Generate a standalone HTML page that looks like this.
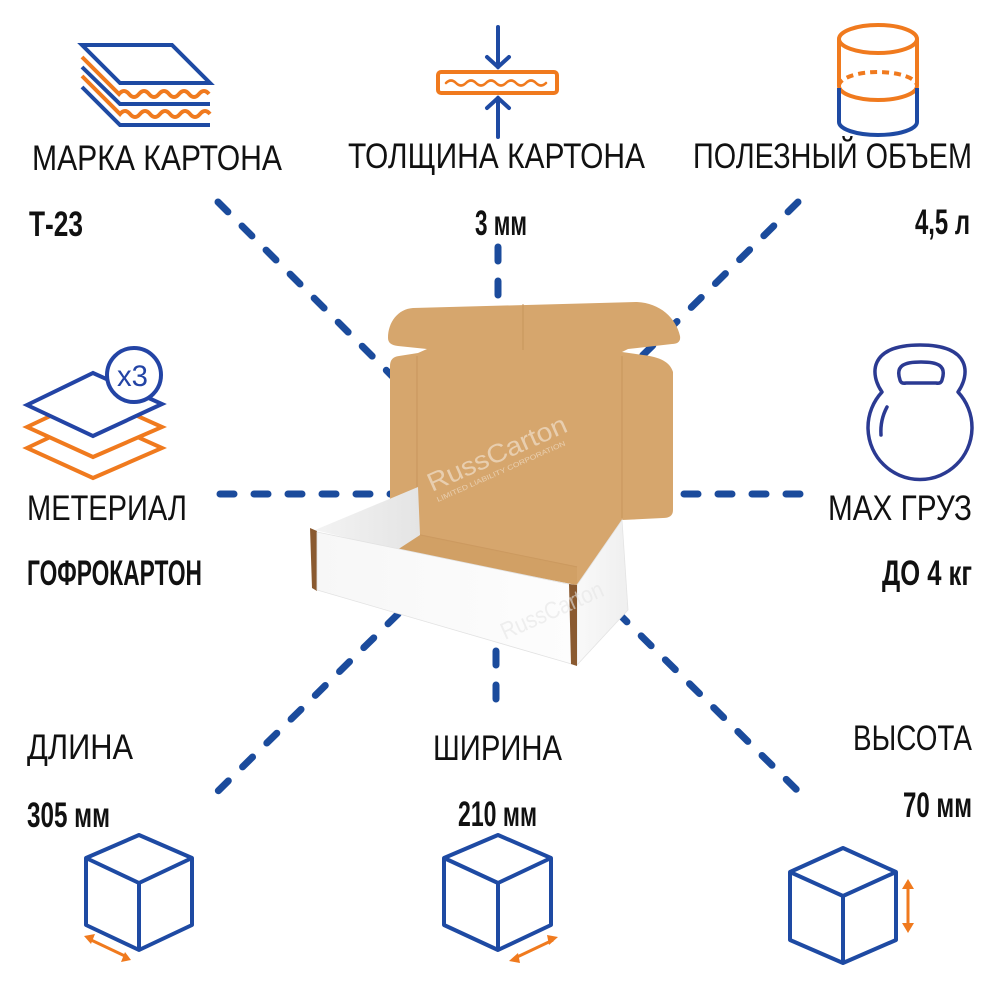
<!DOCTYPE html>
<html>
<head>
<meta charset="utf-8">
<style>
  html,body{margin:0;padding:0;background:#fff;}
  svg{display:block;}
  .lbl{font-family:"Liberation Sans","Noto Sans CJK SC",sans-serif;font-size:35px;fill:#111;}
  .val{font-family:"Liberation Sans","Noto Sans CJK SC",sans-serif;font-size:35px;font-weight:bold;fill:#111;}
</style>
</head>
<body>
<svg width="1000" height="1000" viewBox="0 0 1000 1000" xmlns="http://www.w3.org/2000/svg">
  <defs>
    <linearGradient id="innerWall" x1="0" y1="0" x2="1" y2="0">
      <stop offset="0" stop-color="#f3f3f3"/>
      <stop offset="1" stop-color="#e4e4e4"/>
    </linearGradient>
    <linearGradient id="frontWall" x1="0" y1="0" x2="1" y2="0">
      <stop offset="0" stop-color="#f7f7f7"/>
      <stop offset="1" stop-color="#fdfdfd"/>
    </linearGradient>
    <linearGradient id="rightWall" x1="0" y1="0" x2="1" y2="0">
      <stop offset="0" stop-color="#f9f9f9"/>
      <stop offset="1" stop-color="#efefef"/>
    </linearGradient>
  </defs>
  <rect width="1000" height="1000" fill="#fff"/>

  <!-- dashed connectors -->
  <g stroke="#1b4b9c" stroke-width="7" stroke-linecap="round" fill="none" stroke-dasharray="14 20">
    <line x1="218" y1="202" x2="392" y2="376"/>
    <line x1="498" y1="247" x2="498" y2="305"/>
    <line x1="798" y1="202" x2="640" y2="358"/>
    <line x1="220" y1="494" x2="402" y2="494"/>
    <line x1="800" y1="494" x2="676" y2="494"/>
    <line x1="398" y1="614" x2="216" y2="793"/>
    <line x1="496" y1="651" x2="496" y2="706"/>
    <line x1="617" y1="612" x2="800" y2="793"/>
  </g>

  <!-- box: lid + interior kraft -->
  <path d="M390,499 L390,366 Q390,357 399,356 L418,353 L427,349 L398,346 Q388,345 388,338 C388,322 398,309 413,308 L637,302 C660,303 676,318 680,336 C681,342 677,344 672,344 L628,349 L622,352 L643,355 C660,357 670,362 673,372 L673,510 C673,516 669,518 663,518 L622,520 L577,585 L397,550 Z" fill="#d6a66d"/>
  <!-- lid fold lines -->
  <g stroke="#c8955c" stroke-width="1.2" fill="none" opacity="0.8">
    <line x1="417" y1="356" x2="417" y2="490"/>
    <line x1="622" y1="356" x2="622" y2="518"/>
    <line x1="523" y1="304" x2="523" y2="350"/>
    <line x1="420" y1="535" x2="577" y2="567"/>
  </g>
  <path d="M397,550 L420,535 L577,567 L577,585 Z" fill="#cf9e63" opacity="0.7"/>
  <!-- watermark -->
  <g fill="#ffffff" opacity="0.45" font-family="Liberation Sans, sans-serif">
    <text x="432" y="492" font-size="26" transform="rotate(-24 432 492)" textLength="150" lengthAdjust="spacingAndGlyphs">RussCarton</text>
    <text x="438" y="502" font-size="7" transform="rotate(-24 438 502)" textLength="140" lengthAdjust="spacingAndGlyphs">LIMITED LIABILITY CORPORATION</text>
  </g>

  <!-- inner left wall -->
  <polygon points="315,530 418,487 420,535 397,550" fill="url(#innerWall)"/>
  <!-- left brown edge -->
  <polygon points="310,528 317,531 317,591 312,588" fill="#8a5a30"/>
  <!-- front wall -->
  <polygon points="317,532 573,585 575,665 317,590" fill="url(#frontWall)" stroke="#e2e2e2" stroke-width="0.8"/>
  <!-- right wall -->
  <polygon points="577,585 622,520 628,610 577,665" fill="url(#rightWall)" stroke="#e4e4e4" stroke-width="0.8"/>
  <!-- right brown strip -->
  <polygon points="569,584 577,585 577,666 571,664" fill="#8a5a30"/>
  <g fill="#ffffff" opacity="0.6" font-family="Liberation Sans, sans-serif">
    <text x="505" y="640" font-size="24" transform="rotate(-24 505 640)" textLength="110" lengthAdjust="spacingAndGlyphs" fill="#e6e6e6">RussCarton</text>
  </g>

  <!-- ICON 1: stacked cardboard -->
  <g fill="none" stroke-width="4" stroke-linejoin="miter">
    <path d="M82,87 L120,125 L210,125" stroke="#1e4aa3"/>
    <path d="M82,76 L120,114 q5,-6 10,0 t10,0 t10,0 t10,0 t10,0 t10,0 t10,0 t10,0 t10,0" stroke="#f07a1e"/>
    <path d="M82,67 L120,104 L210,104" stroke="#1e4aa3"/>
    <path d="M82,57 L119,94 q5,-6 10,0 t10,0 t10,0 t10,0 t10,0 t10,0 t10,0 t10,0 t10,0" stroke="#f07a1e"/>
    <polygon points="82,45 172,45 210,83 120,83" stroke="#1e4aa3" fill="#fff"/>
  </g>

  <!-- ICON 2: thickness -->
  <g fill="none" stroke-linecap="round">
    <rect x="438" y="72" width="119" height="21" rx="3" stroke="#f07a1e" stroke-width="4"/>
    <path d="M446,83 q5,-5 10,0 t10,0 t10,0 t10,0 t10,0 t10,0 t10,0 t10,0 t10,0 t10,0" stroke="#f07a1e" stroke-width="2.5"/>
    <line x1="498" y1="27" x2="498" y2="67" stroke="#1e4aa3" stroke-width="4"/>
    <polyline points="487,57 498,67 509,57" stroke="#1e4aa3" stroke-width="4"/>
    <line x1="498" y1="98" x2="498" y2="137" stroke="#1e4aa3" stroke-width="4"/>
    <polyline points="487,108 498,98 509,108" stroke="#1e4aa3" stroke-width="4"/>
  </g>

  <!-- ICON 3: cylinder -->
  <g fill="none" stroke-width="4">
    <ellipse cx="878" cy="39" rx="39" ry="14" stroke="#f07a1e"/>
    <line x1="839" y1="39" x2="839" y2="86" stroke="#f07a1e"/>
    <line x1="917" y1="39" x2="917" y2="86" stroke="#f07a1e"/>
    <path d="M839,86 A39,14 0 0 1 917,86" stroke="#f07a1e" stroke-dasharray="7 5"/>
    <path d="M839,86 A39,14 0 0 0 917,86" stroke="#f07a1e"/>
    <line x1="839" y1="88" x2="839" y2="122" stroke="#1e4aa3"/>
    <line x1="917" y1="88" x2="917" y2="122" stroke="#1e4aa3"/>
    <path d="M839,122 A39,13 0 0 0 917,122" stroke="#1e4aa3"/>
  </g>

  <!-- ICON 4: layers x3 -->
  <g stroke-width="4" stroke-linejoin="miter">
    <polygon points="27,448 93,417 162,448 93,478" fill="#fff" stroke="#f07a1e"/>
    <polygon points="27,427 93,396 162,427 93,457" fill="#fff" stroke="#f07a1e"/>
    <polygon points="27,405 93,373 162,404 93,436" fill="#fff" stroke="#2344a5"/>
    <circle cx="134" cy="375" r="27" fill="#fff" stroke="#2344a5"/>
  </g>
  <text x="117" y="386" font-family="Liberation Sans, sans-serif" font-size="30" fill="#2344a5" textLength="31" lengthAdjust="spacingAndGlyphs">x3</text>

  <!-- ICON 5: kettlebell -->
  <g fill="none" stroke="#2b3a92" stroke-width="3.5" stroke-linecap="round" stroke-linejoin="round">
    <path d="M882,392 C870,375 868,345 920,345 C972,345 970,375 958,392 A52,52 0 1 1 882,392 Z"/>
    <path d="M900,380 C895,365 905,362 921,362 C937,362 947,365 942,380 Q941,384 936,383 L906,383 Q901,384 900,380 Z"/>
    <path d="M887,407 Q880,420 881,435"/>
  </g>

  <!-- CUBES -->
  <g fill="none" stroke="#1e4aa3" stroke-width="4" stroke-linejoin="round">
    <polygon points="139,835 192,858 192,925 139,950 86,925 86,858"/>
    <polyline points="86,858 139,883 192,858"/>
    <line x1="139" y1="883" x2="139" y2="950"/>

    <polygon points="498,835 551,858 551,925 498,950 444,925 444,858"/>
    <polyline points="444,858 498,883 551,858"/>
    <line x1="498" y1="883" x2="498" y2="950"/>

    <polygon points="843,848 896,872 896,940 843,963 790,940 790,872"/>
    <polyline points="790,872 843,896 896,872"/>
    <line x1="843" y1="896" x2="843" y2="963"/>
  </g>
  <!-- orange arrows -->
  <g stroke="#f07a1e" stroke-width="3" fill="#f07a1e">
    <line x1="89" y1="939" x2="127" y2="957"/>
    <polygon points="84,936 95,934 91,944" stroke="none"/>
    <polygon points="131,960 121,962 125,952" stroke="none"/>

    <line x1="515" y1="958" x2="553" y2="940"/>
    <polygon points="509,961 518,953 520,963" stroke="none"/>
    <polygon points="558,937 549,945 547,935" stroke="none"/>

    <line x1="908" y1="886" x2="908" y2="926"/>
    <polygon points="908,879 902,889 914,889" stroke="none"/>
    <polygon points="908,933 902,923 914,923" stroke="none"/>
  </g>

  <!-- TEXT -->
  <text class="lbl" x="32" y="170" textLength="250" lengthAdjust="spacingAndGlyphs">МАРКА КАРТОНА</text>
  <text class="val" x="29" y="236" textLength="54" lengthAdjust="spacingAndGlyphs">Т-23</text>

  <text class="lbl" x="348" y="168" textLength="297" lengthAdjust="spacingAndGlyphs">ТОЛЩИНА КАРТОНА</text>
  <text class="val" x="475" y="235" textLength="52" lengthAdjust="spacingAndGlyphs">3 мм</text>

  <text class="lbl" x="693" y="168" textLength="279" lengthAdjust="spacingAndGlyphs">ПОЛЕЗНЫЙ ОБЪЕМ</text>
  <text class="val" x="915" y="234" textLength="55" lengthAdjust="spacingAndGlyphs">4,5 л</text>

  <text class="lbl" x="27" y="520" textLength="160" lengthAdjust="spacingAndGlyphs">МЕТЕРИАЛ</text>
  <text class="val" x="27" y="585" textLength="175" lengthAdjust="spacingAndGlyphs">ГОФРОКАРТОН</text>

  <text class="lbl" x="828" y="520" textLength="144" lengthAdjust="spacingAndGlyphs">MAX ГРУЗ</text>
  <text class="val" x="882" y="585" textLength="90" lengthAdjust="spacingAndGlyphs">ДО 4 кг</text>

  <text class="lbl" x="27" y="759" textLength="106" lengthAdjust="spacingAndGlyphs">ДЛИНА</text>
  <text class="val" x="27" y="827" textLength="83" lengthAdjust="spacingAndGlyphs">305 мм</text>

  <text class="lbl" x="433" y="760" textLength="129" lengthAdjust="spacingAndGlyphs">ШИРИНА</text>
  <text class="val" x="458" y="826" textLength="79" lengthAdjust="spacingAndGlyphs">210 мм</text>

  <text class="lbl" x="853" y="750" textLength="119" lengthAdjust="spacingAndGlyphs">ВЫСОТА</text>
  <text class="val" x="903" y="817" textLength="69" lengthAdjust="spacingAndGlyphs">70 мм</text>
</svg>
</body>
</html>
